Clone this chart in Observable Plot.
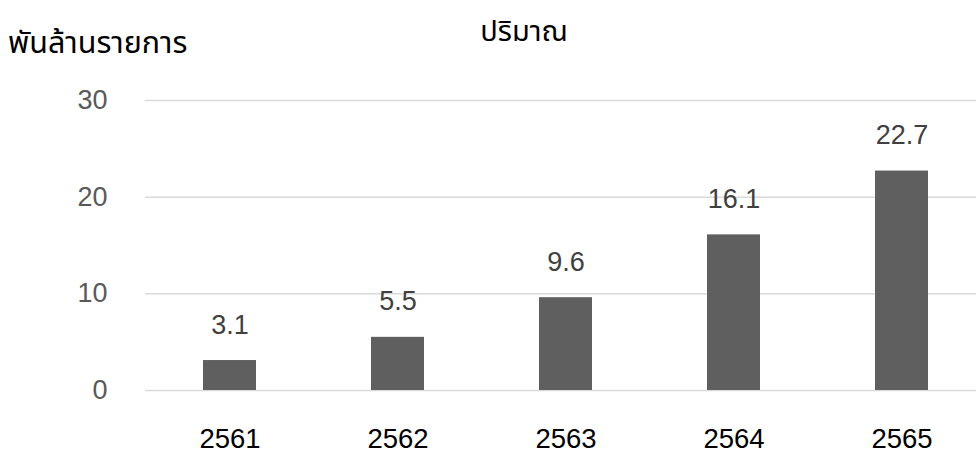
<!DOCTYPE html>
<html><head><meta charset="utf-8">
<script src="https://cdn.jsdelivr.net/npm/d3@7"></script>
<script src="https://cdn.jsdelivr.net/npm/@observablehq/plot@0.6"></script>
<style>
body{margin:0;background:#fff;}
#wrap{position:relative;width:976px;height:457px;font-family:"Liberation Sans",Arial,sans-serif;}
.thai{font-family:"Noto Sans Thai","Noto Sans Thai UI","Leelawadee UI","Tahoma","Sarabun","Laksaman","Waree","Umpush","Loma","Liberation Sans",sans-serif;font-weight:400;}
#title{position:absolute;left:524px;top:18px;transform:translateX(-50%);font-size:29px;line-height:1;color:#000;white-space:nowrap;}
#ylabel{position:absolute;left:8px;top:29px;font-size:30.5px;line-height:1;color:#000;white-space:nowrap;}
</style></head>
<body>
<div id="wrap"><div id="chart"></div><div id="title" class="thai">ปริมาณ</div><div id="ylabel" class="thai">พันล้านรายการ</div></div>
<script>
const years = ["2561","2562","2563","2564","2565"];
const values = [3.1,5.5,9.6,16.1,22.7];
const yTicks = [0,10,20,30];
const data = years.map((y,i)=>({year:y,value:values[i]}));

const chart = Plot.plot({
  width:976, height:457,
  marginLeft:145, marginRight:0, marginTop:100, marginBottom:67,
  style:{fontFamily:"Liberation Sans, Arial, sans-serif", background:"white", overflow:"visible"},
  x:{domain:years, range:[145,985], paddingInner:0.685, paddingOuter:0.3425, label:null},
  y:{domain:[0,30], label:null},
  marks:[
    Plot.ruleY(yTicks,{stroke:"#d9d9d9", strokeWidth:1.5}),
    Plot.barY(data,{x:"year", y:"value", fill:"#5f5f5f"}),
    Plot.text(data,{x:"year", y:"value", text:d=>d.value.toFixed(1), lineAnchor:"bottom", dy:-27, fontSize:27, fill:"#404040"}),
    Plot.axisY(yTicks,{tickSize:0, tickPadding:38, fontSize:27, color:"#595959", label:null}),
    Plot.axisX({tickSize:0, tickPadding:38, fontSize:27.5, color:"#000", label:null})
  ]
});
document.getElementById("chart").appendChild(chart);
</script>
</body></html>
